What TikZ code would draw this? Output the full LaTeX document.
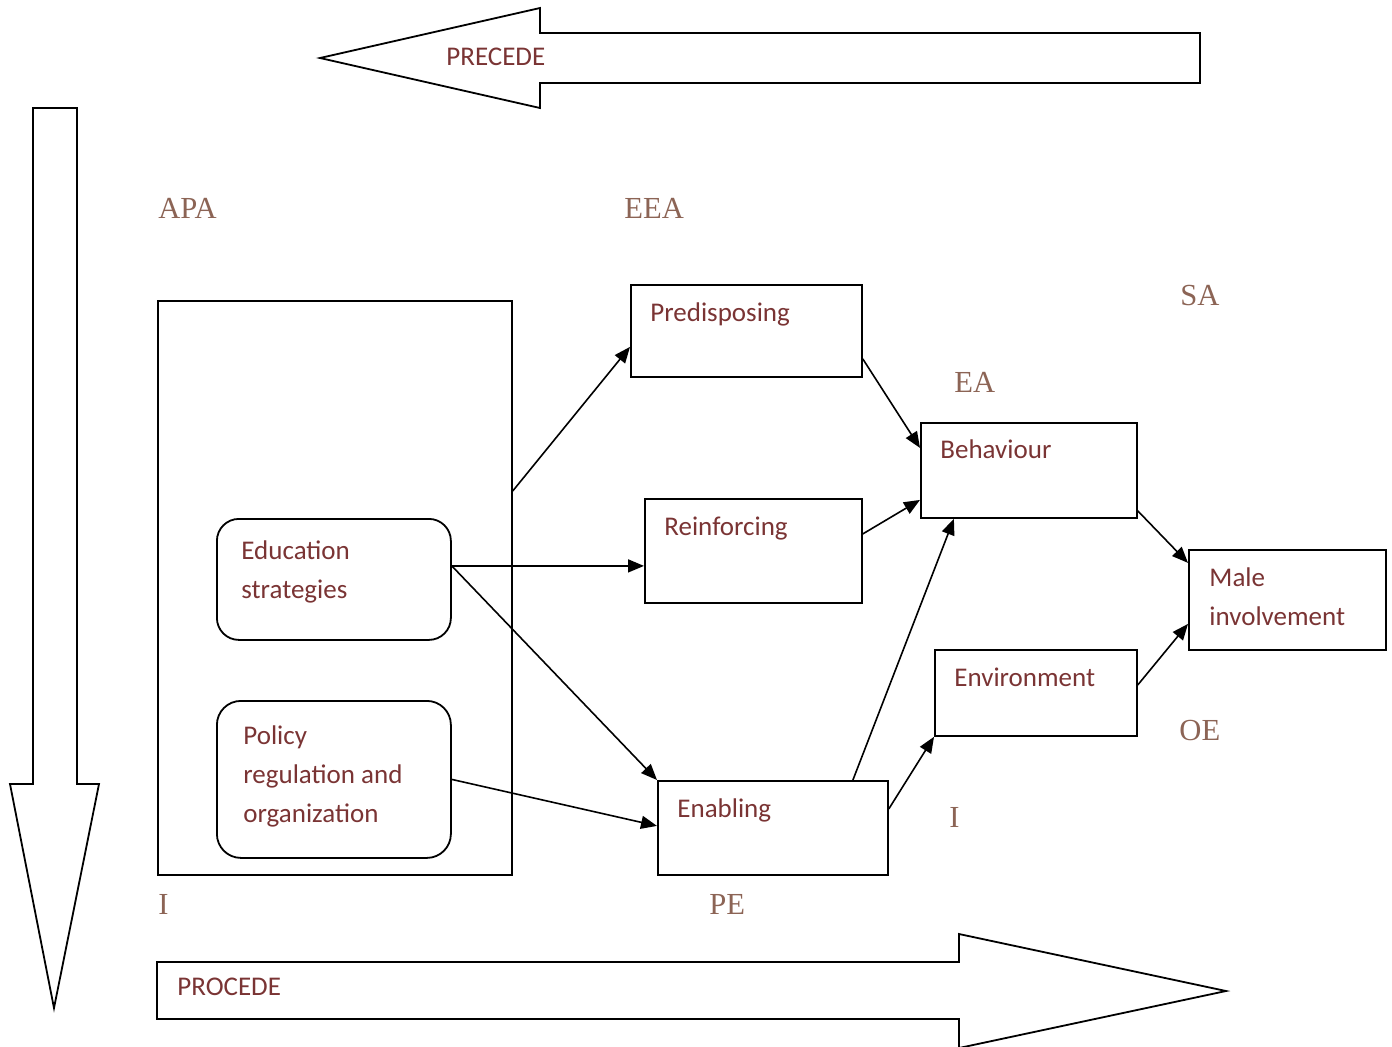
\documentclass[tikz,border=0pt]{standalone}
\usepackage{fontspec}
\setmainfont{Liberation Serif}
\newfontfamily\calib{Carlito}
\usetikzlibrary{arrows.meta}
\definecolor{boxtext}{RGB}{122,52,52}
\definecolor{lbltext}{RGB}{140,100,85}
\begin{document}
\begin{tikzpicture}[x=0.5pt,y=-0.5pt,
  outline/.style={draw=black,line width=0.9pt,fill=white},
  boxnode/.style={draw=black,line width=0.9pt,anchor=north west,inner sep=0pt},
  roundnode/.style={boxnode,rounded corners=11pt},
  btext/.style={anchor=base west,inner sep=0pt,text=boxtext,font=\calib\fontsize{13.5pt}{19.5pt}\selectfont,align=left},
  ltext/.style={anchor=base west,inner sep=0pt,text=lbltext,font=\fontsize{15.3pt}{18pt}\selectfont},
  conn/.style={line width=0.8pt,-{Triangle[length=8pt,width=6.5pt]}}]
\useasboundingbox (0,0) rectangle (1392,1046);
% block arrows
\draw[outline] (320,58) -- (540,8) -- (540,33) -- (1200,33) -- (1200,83) -- (540,83) -- (540,108) -- cycle;
\draw[outline] (33,108) -- (77,108) -- (77,784) -- (99,784) -- (54,1008) -- (10,784) -- (33,784) -- cycle;
\draw[outline] (157,962) -- (959,962) -- (959,934) -- (1226,991) -- (959,1048) -- (959,1019) -- (157,1019) -- cycle;
\node[btext] (precede) at (446,65) {PRECEDE};
\node[btext] (procede) at (177,995) {PROCEDE};
% boxes
\node[boxnode,minimum width=177pt,minimum height=287pt] (big) at (157,300) {};
\node[roundnode,minimum width=117pt,minimum height=60.5pt] (edu) at (216,518) {};
\node[roundnode,rounded corners=12pt,minimum width=117pt,minimum height=78.5pt] (pol) at (216,700) {};
\node[boxnode,minimum width=115.5pt,minimum height=46pt] (pred) at (630,284) {};
\node[boxnode,minimum width=108.5pt,minimum height=52pt] (reinf) at (644,498) {};
\node[boxnode,minimum width=115pt,minimum height=47pt] (enab) at (657,780) {};
\node[boxnode,minimum width=108pt,minimum height=47.5pt] (beh) at (920,422) {};
\node[boxnode,minimum width=101pt,minimum height=43pt] (env) at (934,649) {};
\node[boxnode,minimum width=98.5pt,minimum height=50pt] (male) at (1188,549) {};
% box texts (multi-line: anchored at baseline of last line)
\node[btext] (eduT) at (241,598) {Education\\strategies};
\node[btext] (polT) at (243,822) {Policy\\regulation and\\organization};
\node[btext] (predT) at (650,321) {Predisposing};
\node[btext] (reinfT) at (664,535) {Reinforcing};
\node[btext] (enabT) at (677,817) {Enabling};
\node[btext] (behT) at (940,458) {Behaviour};
\node[btext] (envT) at (954,686) {Environment};
\node[btext] (maleT) at (1209,625) {Male\\involvement};
% labels
\node[ltext] (apa) at (158,218) {APA};
\node[ltext] (eea) at (624,218) {EEA};
\node[ltext] (sa) at (1180,305) {SA};
\node[ltext] (ea) at (954,392) {EA};
\node[ltext] (oe) at (1179,740) {OE};
\node[ltext] (i1) at (949,827) {I};
\node[ltext] (i2) at (158,914) {I};
\node[ltext] (pe) at (709,914) {PE};
% connectors
\draw[conn] ([yshift=48.5pt]big.east) -- ([yshift=-8pt]pred.west);
\draw[conn] ([yshift=6.75pt]edu.east) -- ([yshift=-7.5pt]reinf.west);
\draw[conn] ([yshift=6.75pt]edu.east) -- (enab.north west);
\draw[conn] (pol.east) -- ([yshift=1pt]enab.west);
\draw[conn] ([yshift=-14pt]pred.east) -- ([yshift=11.25pt]beh.west);
\draw[conn] ([yshift=8.5pt]reinf.east) -- ([yshift=-14.75pt]beh.west);
\draw[conn] ([xshift=40pt]enab.north) -- ([xshift=-37.5pt]beh.south);
\draw[conn] ([yshift=9.5pt]enab.east) -- (env.south west);
\draw[conn] ([yshift=-20.25pt]beh.east) -- ([yshift=18.5pt]male.west);
\draw[conn] ([yshift=4pt]env.east) -- ([yshift=-12pt]male.west);
\end{tikzpicture}
\end{document}
